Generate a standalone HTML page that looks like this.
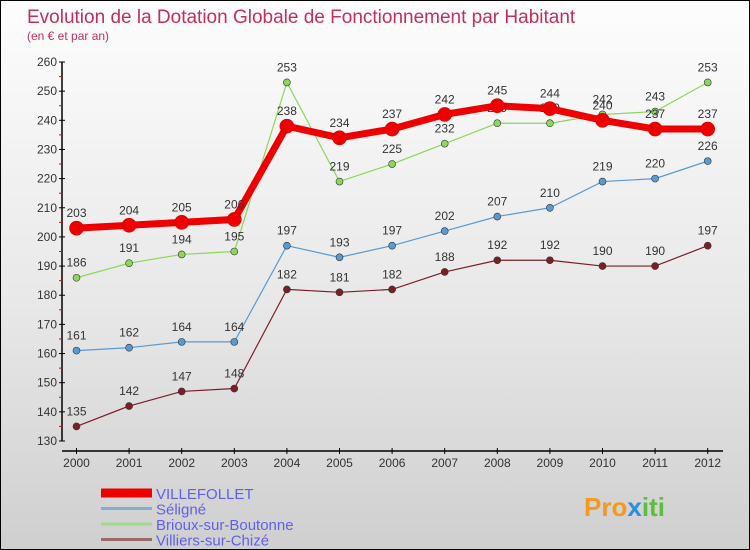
<!DOCTYPE html>
<html><head><meta charset="utf-8"><style>
body{margin:0}
#c{width:750px;height:550px;position:relative;overflow:hidden;box-sizing:border-box;border:1px solid #000;background:linear-gradient(#fdfdfd,#e8e8e8 55%,#cfcfcf);font-family:"Liberation Sans",sans-serif}
svg text{font-family:"Liberation Sans",sans-serif}
</style></head><body>
<div id="c">
<svg width="750" height="550" id="s">
<text x="26" y="22" font-size="19" fill="#c0305a">Evolution de la Dotation Globale de Fonctionnement par Habitant</text>
<text x="26" y="39" font-size="12" fill="#c0305a">(en € et par an)</text>
<g id="axes"></g><g id="series"></g><g id="legend"></g>
<text x="583" y="515" font-size="26" font-weight="bold" fill="#f39a1e">Pro<tspan fill="#2a8de0">x</tspan><tspan fill="#5bbf3b">iti</tspan></text>
</svg></div>
<script>
const years=[2000,2001,2002,2003,2004,2005,2006,2007,2008,2009,2010,2011,2012];
const villefollet=[203,204,205,206,238,234,237,242,245,244,240,237,237];
const seligne=[161,162,164,164,197,193,197,202,207,210,219,220,226];
const brioux=[186,191,194,195,253,219,225,232,239,239,242,243,253];
const villiers=[135,142,147,148,182,181,182,188,192,192,190,190,197];
const yTicks=[130,140,150,160,170,180,190,200,210,220,230,240,250,260];
const NS="http://www.w3.org/2000/svg";
const X=i=>75.5+i*52.6;
const Y=v=>440-(v-130)*(379/130);
function mk(tag,at,par,txt){const e=document.createElementNS(NS,tag);for(const k in at)e.setAttribute(k,at[k]);if(txt!=null)e.textContent=txt;par.appendChild(e);return e;}
const ax=document.getElementById('axes');
let e=mk('line',{x1:61,y1:Y(260),x2:61,y2:440,stroke:'#000','stroke-width':1.5},ax);


e=mk('line',{x1:61,y1:450,x2:722,y2:450,stroke:'#000','stroke-width':1.5},ax);


yTicks.forEach((t,i)=>{
 mk('line',{x1:58,y1:Y(t),x2:64,y2:Y(t),stroke:'#000'},ax);
 if(i<yTicks.length-1)mk('line',{x1:58,y1:Y(t+5),x2:61,y2:Y(t+5),stroke:'#e00'},ax);
 const l=mk('text',{x:56,y:Y(t)+4,'font-size':12,'text-anchor':'end',fill:'#333'},ax,t);
 
 
});
years.forEach((y,i)=>{
 mk('line',{x1:X(i),y1:447,x2:X(i),y2:453,stroke:'#000'},ax);
 const l=mk('text',{x:X(i),y:466,'font-size':12,'text-anchor':'middle',fill:'#333'},ax,y);
 
 
});
const ser=[
 {n:'villiers',d:villiers,c:'#7a1f26',w:1.2,r:3.5,lab:'Villiers-sur-Chizé',lc:'#9a6a6a',lw:3},
 {n:'seligne',d:seligne,c:'#5a9ad0',w:1.2,r:3.5,lab:'Séligné',lc:'#80aed0',lw:3},
 {n:'brioux',d:brioux,c:'#8cd65a',w:1.2,r:3.5,lab:'Brioux-sur-Boutonne',lc:'#a0d890',lw:3},
 {n:'villefollet',d:villefollet,c:'#ee0000',w:7,r:7,lab:'VILLEFOLLET',lc:'#ee0000',lw:9}
];
const sg=document.getElementById('series');
ser.forEach(s=>{
 const g=mk('g',{},sg);
 
 
 const pl=mk('polyline',{points:s.d.map((v,i)=>X(i)+','+Y(v)).join(' '),fill:'none',stroke:s.c,'stroke-width':s.w},g);
 
 
 s.d.forEach((v,i)=>{
  const c=mk('circle',{cx:X(i),cy:Y(v),r:s.r,fill:s.c,stroke:s.n==='villefollet'?'#c00':'#333','stroke-width':0.6},g);
  
  
  const t=mk('text',{x:X(i),y:Y(v)-11,'font-size':12,'text-anchor':'middle',fill:'#333'},g,v);
  
  
 });
});
const lg=document.getElementById('legend');
const order=[3,1,2,0];
order.forEach((k,j)=>{
 const s=ser[k];const y=492+j*15.5;
 const g=mk('g',{},lg);
 
 
 mk('line',{x1:100,y1:y,x2:151,y2:y,stroke:s.lc,'stroke-width':s.lw},g);
 mk('text',{x:155,y:y+6,'font-size':15,fill:'#6060f0'},g,s.lab);
});
</script>
</body></html>
